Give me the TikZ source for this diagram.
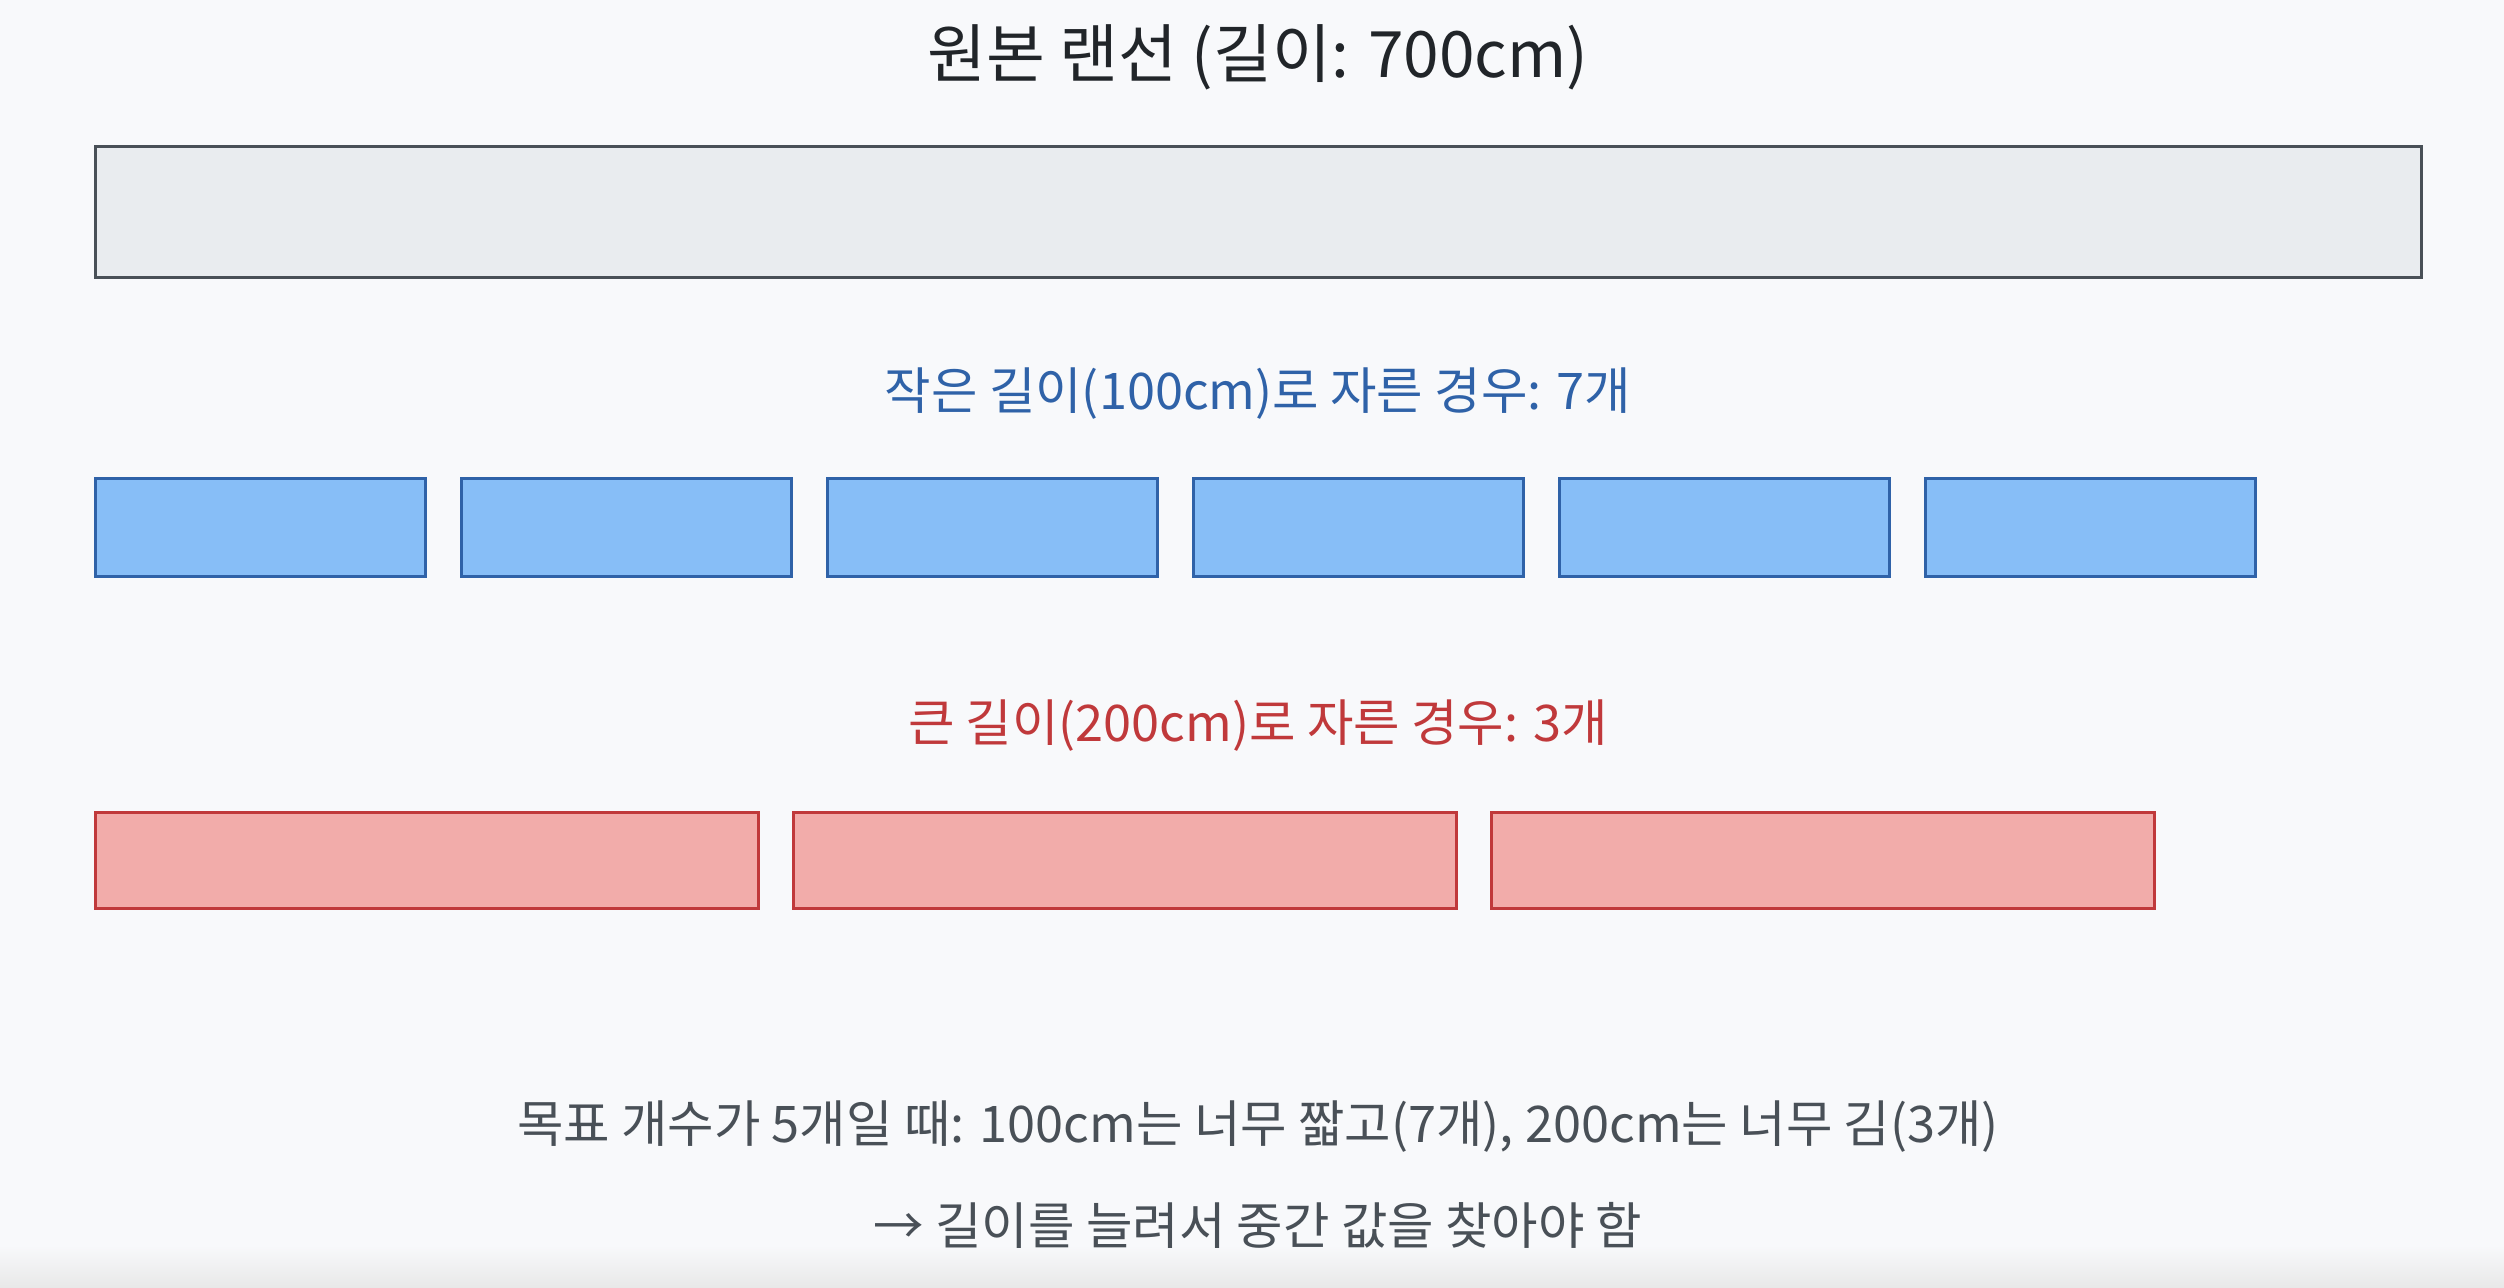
\documentclass[tikz,border=0pt]{standalone}
\usepackage{fontspec}
\setmainfont{Noto Sans CJK KR}
\usetikzlibrary{positioning}
\definecolor{bgcol}{HTML}{F8F9FB}
\definecolor{titlecol}{HTML}{212529}
\definecolor{barfill}{HTML}{E9ECEF}
\definecolor{bardraw}{HTML}{495057}
\definecolor{smallfill}{HTML}{87BEF7}
\definecolor{smalldraw}{HTML}{2F62A8}
\definecolor{bigfill}{HTML}{F2ACAA}
\definecolor{bigdraw}{HTML}{C0393B}
\definecolor{notecol}{HTML}{495057}
\newcommand{\labelSize}[0]{\fontsize{50.5}{60}\selectfont}

\begin{document}
\begin{tikzpicture}[x=1pt, y=-1pt]
  \tikzset{piece/.style={draw, line width=3pt, inner sep=0pt, outer sep=0pt},
    origbar/.style={piece, fill=barfill, draw=bardraw, minimum width=2326pt, minimum height=131pt},
    smallpiece/.style={piece, fill=smallfill, draw=smalldraw, minimum width=330pt, minimum height=98pt},
    bigpiece/.style={piece, fill=bigfill, draw=bigdraw, minimum width=663pt, minimum height=96pt},
    caption/.style={inner sep=0pt, font=\labelSize}}
  \useasboundingbox (0,0) rectangle (2504,1288);
  \fill[bgcol] (0,0) rectangle (2504,1288);
  \shade[top color=bgcol, bottom color=black!9] (0,1245) rectangle (2504,1288);

  \node[caption, text=titlecol, font=\fontsize{64}{76}\selectfont] (title) at (1258,57) {원본 랜선 (길이: 700cm)};
  \node[origbar] (orig) at (1258.5,212) {};

  \node[caption, text=smalldraw] (smalllabel) at (1258,394) {작은 길이(100cm)로 자른 경우: 7개};
  \node[smallpiece] (small1) at (260.5,527.5) {};
  \foreach \i [evaluate=\i as \j using int(\i-1)] in {2,...,6}
    \node[smallpiece, right=36pt of small\j] (small\i) {};

  \node[caption, text=bigdraw] (biglabel) at (1258,726) {큰 길이(200cm)로 자른 경우: 3개};
  \node[bigpiece] (big1) at (426.5,860.5) {};
  \foreach \i [evaluate=\i as \j using int(\i-1)] in {2,3}
    \node[bigpiece, right=35pt of big\j] (big\i) {};

  \node[caption, text=notecol] (note) at (1258,1127) {목표 개수가 5개일 때: 100cm는 너무 짧고(7개), 200cm는 너무 김(3개)};
  \node[caption, text=notecol] (hint) at (1258,1225) {→ 길이를 늘려서 중간 값을 찾아야 함};
\end{tikzpicture}
\end{document}
